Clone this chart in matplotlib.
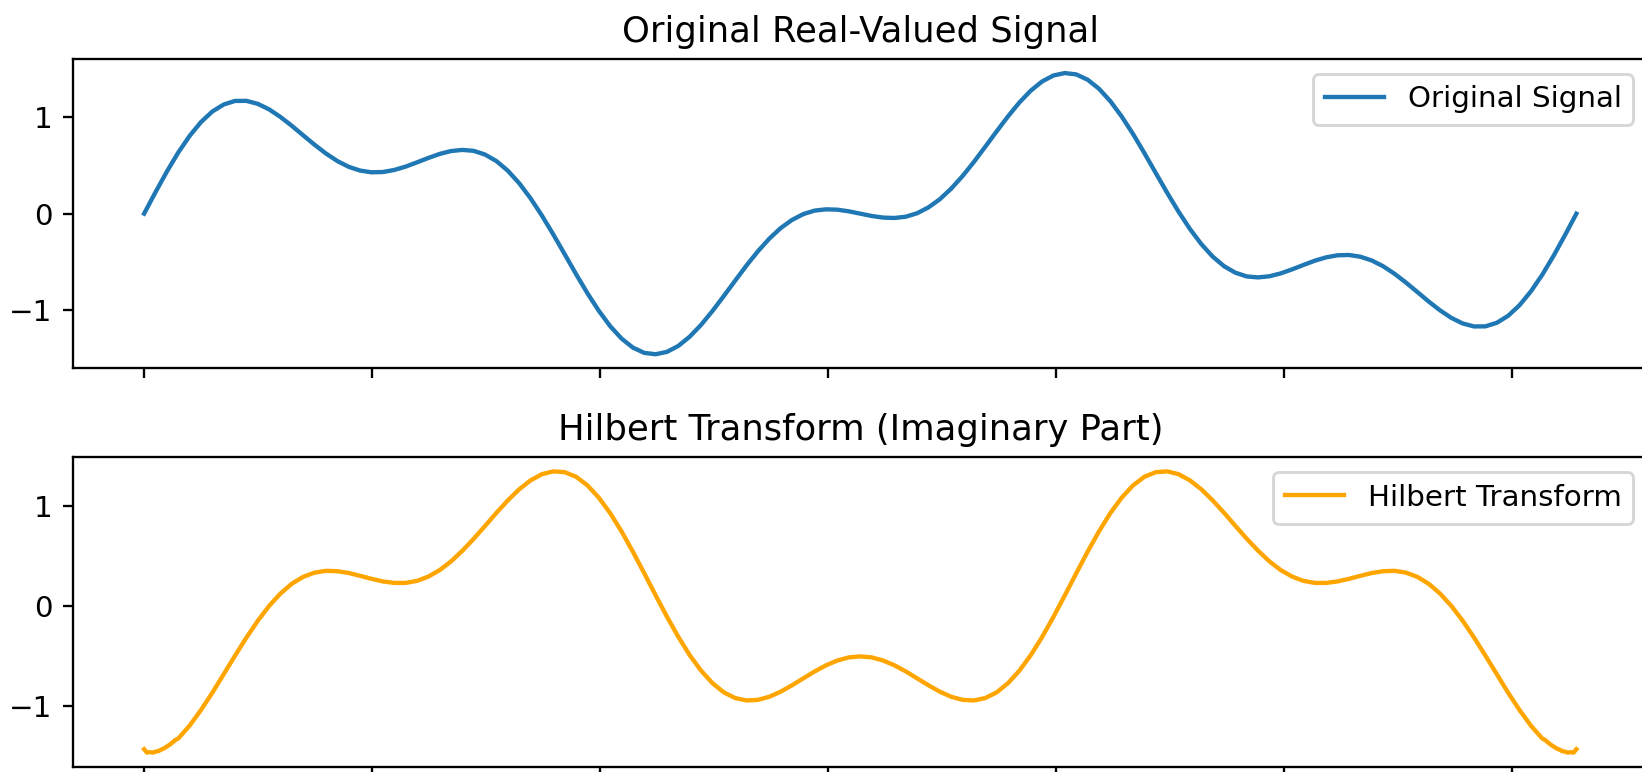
import numpy as np
import matplotlib
matplotlib.use("Agg")
import matplotlib.pyplot as plt

# ---- data -------------------------------------------------------------
# Sample grid: 0 .. 2*pi, 127 samples
time = np.linspace(0, 2 * np.pi, 127)

original_signal = [
    0.000, 0.223, 0.437, 0.635, 0.808, 0.952, 1.062, 1.135, 1.172, 1.173,
    1.142, 1.084, 1.005, 0.913, 0.814, 0.716, 0.625, 0.547, 0.487, 0.448,
    0.430, 0.433, 0.454, 0.489, 0.533, 0.579, 0.621, 0.651, 0.663, 0.653,
    0.614, 0.546, 0.446, 0.316, 0.159, -0.021, -0.217, -0.422, -0.629, -0.828,
    -1.010, -1.170, -1.299, -1.393, -1.448, -1.462, -1.437, -1.375, -1.279, -1.156,
    -1.012, -0.856, -0.696, -0.538, -0.391, -0.260, -0.150, -0.065, -0.004, 0.032,
    0.045, 0.041, 0.024, 0.000, -0.024, -0.041, -0.045, -0.032, 0.004, 0.065,
    0.150, 0.260, 0.391, 0.538, 0.696, 0.856, 1.012, 1.156, 1.279, 1.375,
    1.437, 1.462, 1.448, 1.393, 1.299, 1.170, 1.010, 0.828, 0.629, 0.422,
    0.217, 0.021, -0.159, -0.316, -0.446, -0.546, -0.614, -0.653, -0.663, -0.651,
    -0.621, -0.579, -0.533, -0.489, -0.454, -0.433, -0.430, -0.448, -0.487, -0.547,
    -0.625, -0.716, -0.814, -0.913, -1.005, -1.084, -1.142, -1.173, -1.172, -1.135,
    -1.062, -0.952, -0.808, -0.635, -0.437, -0.223, 0.000,
]

# Hilbert transform: finer samples at both ends, where the curve hooks
hilbert_start_t = [0.0000, 0.0126, 0.0252, 0.0378, 0.0504, 0.0630,
                   0.0755, 0.0881, 0.1007, 0.1133, 0.1259, 0.1385]
hilbert_start_v = [-1.429, -1.463, -1.458, -1.463, -1.453, -1.447,
                   -1.432, -1.420, -1.400, -1.382, -1.358, -1.334]
hilbert_end_t = [6.1447, 6.1573, 6.1699, 6.1825, 6.1951, 6.2077,
                 6.2202, 6.2328, 6.2454, 6.2580, 6.2706, 6.2832]
hilbert_end_v = [-1.334, -1.358, -1.382, -1.400, -1.420, -1.432,
                 -1.447, -1.453, -1.463, -1.458, -1.463, -1.429]
hilbert_mid_v = [
    -1.322, -1.193, -1.037, -0.864, -0.679, -0.493, -0.312, -0.144, 0.005, 0.129,
    0.227, 0.296, 0.338, 0.356, 0.352, 0.334, 0.306, 0.276, 0.250, 0.235,
    0.235, 0.255, 0.298, 0.363, 0.450, 0.557, 0.677, 0.806, 0.937, 1.061,
    1.172, 1.261, 1.323, 1.351, 1.343, 1.297, 1.211, 1.088, 0.933, 0.750,
    0.547, 0.331, 0.111, -0.104, -0.306, -0.488, -0.643, -0.768, -0.860, -0.917,
    -0.941, -0.935, -0.904, -0.853, -0.789, -0.719, -0.650, -0.589, -0.541, -0.510,
    -0.500, -0.510, -0.541, -0.589, -0.650, -0.719, -0.789, -0.853, -0.904, -0.935,
    -0.941, -0.917, -0.860, -0.768, -0.643, -0.488, -0.306, -0.104, 0.111, 0.331,
    0.547, 0.750, 0.933, 1.088, 1.211, 1.297, 1.343, 1.351, 1.323, 1.261,
    1.172, 1.061, 0.937, 0.806, 0.677, 0.557, 0.450, 0.363, 0.298, 0.255,
    0.235, 0.235, 0.250, 0.276, 0.306, 0.334, 0.352, 0.356, 0.338, 0.296,
    0.227, 0.129, 0.005, -0.144, -0.312, -0.493, -0.679, -0.864, -1.037, -1.193,
    -1.322,
]

y_ticks = [-1, 0, 1]

hilbert_t = np.concatenate([hilbert_start_t, time[3:-3], hilbert_end_t])
hilbert_v = np.concatenate([hilbert_start_v, hilbert_mid_v, hilbert_end_v])

# ---- styling ----------------------------------------------------------
S = 2.08   # scale of line weights and tick marks
F = 2.12   # scale of text
plt.rcParams.update({
    'font.size': 10 * F,
    'axes.titlesize': 12 * F,
    'axes.titlepad': 6 * S,
    'axes.linewidth': 0.8 * S,
    'xtick.major.size': 3.5 * S,
    'ytick.major.size': 3.5 * S,
    'xtick.major.width': 0.8 * S,
    'ytick.major.width': 0.8 * S,
    'xtick.major.pad': 3.5 * S,
    'ytick.major.pad': 3.5 * S,
    'lines.linewidth': 1.5 * S,
    'patch.linewidth': 1.0 * S,
})

W, H = 1642, 772
fig = plt.figure(figsize=(W / 100, H / 100), dpi=100)


def box(left, top, right, bottom):
    return [left / W, 1 - bottom / H, (right - left) / W, (bottom - top) / H]


ax1 = fig.add_axes(box(72.5, 59, 1648, 368.3))
ax2 = fig.add_axes(box(72.5, 457.3, 1648, 766.7), sharex=ax1)

ax1.plot(time, original_signal, color='#1f77b4', label='Original Signal')
ax1.set_title('Original Real-Valued Signal')
ax1.legend(loc='upper right')

ax2.plot(hilbert_t, hilbert_v, color='orange', label='Hilbert Transform')
ax2.set_title('Hilbert Transform (Imaginary Part)')
ax2.legend(loc='upper right')

for ax in (ax1, ax2):
    ax.set_yticks(y_ticks)
    ax.tick_params(labelbottom=False)

fig.savefig('out.png', dpi=100)
